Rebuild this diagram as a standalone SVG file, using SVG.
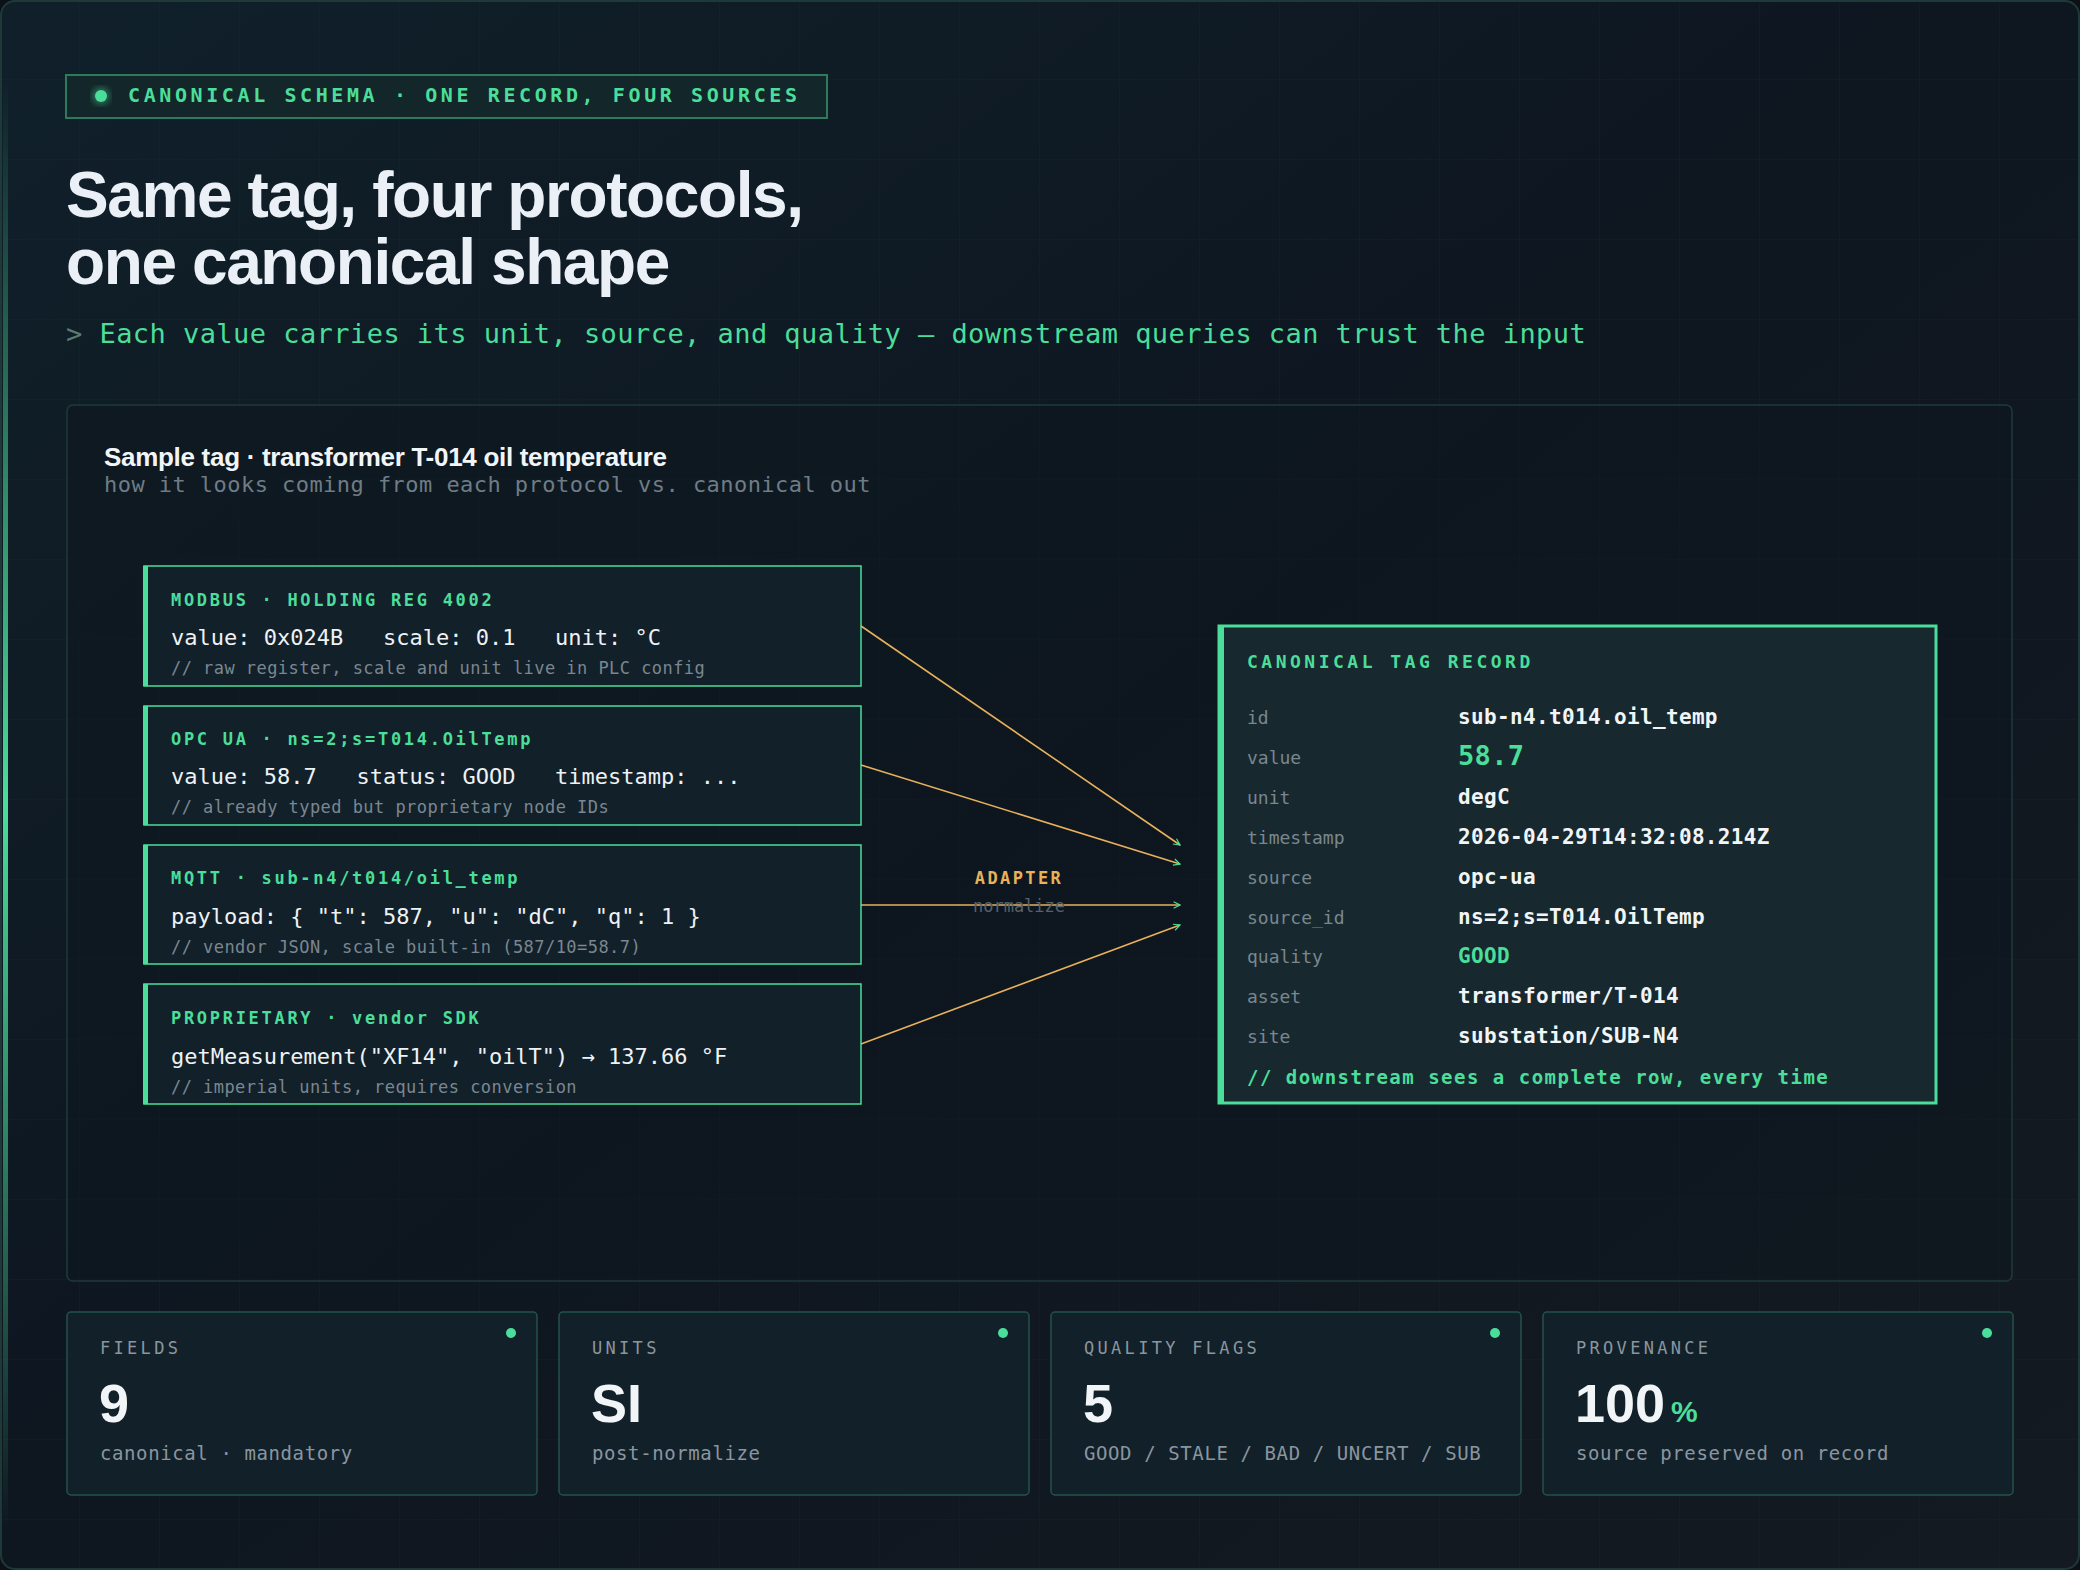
<svg xmlns="http://www.w3.org/2000/svg" width="2080" height="1570" viewBox="0 0 2080 1570">
<defs>
<linearGradient id="bg" x1="0" y1="0" x2="1" y2="1"><stop offset="0" stop-color="#10202a"/><stop offset="0.5" stop-color="#0e1620"/><stop offset="1" stop-color="#141a20"/></linearGradient>
<linearGradient id="edge" x1="0" y1="0" x2="0" y2="1"><stop offset="0" stop-color="#4ade9a" stop-opacity="0"/><stop offset="0.5" stop-color="#4ade9a"/><stop offset="1" stop-color="#4ade9a" stop-opacity="0"/></linearGradient>
<pattern id="grid" width="80" height="80" patternUnits="userSpaceOnUse"><path d="M80 0V80M0 80H80" fill="none" stroke="#1c2c33" stroke-width="1" opacity="0.5"/></pattern>
<marker id="ah" viewBox="0 0 10 10" refX="9" refY="5" markerWidth="8" markerHeight="8" orient="auto" markerUnits="userSpaceOnUse"><path d="M1 1L9 5L1 9" fill="none" stroke="#4ade9a" stroke-width="1.5"/></marker>
<filter id="glow"><feGaussianBlur stdDeviation="3"/></filter>
</defs>
<style>
.mono{font-family:"DejaVu Sans Mono","Liberation Mono",monospace}
.sans{font-family:"Liberation Sans",Arial,sans-serif}
.src{fill:#12202a;stroke:#4ade9a;stroke-width:1.5}
.bar{fill:#4ade9a}
.hdr{font-size:17px;font-weight:bold;fill:#4ade9a;letter-spacing:2.7px}
.val{font-size:22px;fill:#eef2f5}
.cmt{font-size:17px;fill:#7a8790;letter-spacing:0.45px}
.lab{font-size:18px;fill:#7a8790}
.rv{font-size:21px;font-weight:bold;fill:#f2f5f7;letter-spacing:0.35px}
.card{fill:#12202a;stroke:#25524a;stroke-width:1.5}
.clab{font-size:17px;fill:#8a969e;letter-spacing:3.3px}
.big{font-size:54px;font-weight:bold;fill:#f2f5f7}
.csub{font-size:19px;fill:#8a969e;letter-spacing:0.6px}
.wire{stroke:#e9b15a;stroke-width:1.6;fill:none;marker-end:url(#ah)}
</style>
<rect width="2080" height="1570" fill="#0b1116"/>
<rect x="1" y="1" width="2078" height="1568" rx="14" fill="url(#bg)" stroke="#1e3a38" stroke-width="2"/>
<rect x="1" y="1" width="2078" height="1568" rx="14" fill="url(#grid)"/>
<rect x="3" y="80" width="5" height="1450" fill="url(#edge)"/>

<g id="header">
<rect x="66" y="75" width="761" height="43" fill="#13262a" stroke="#2e7a5c" stroke-width="2"/>
<circle cx="101" cy="96" r="9" fill="#4ade9a" opacity="0.4" filter="url(#glow)"/>
<circle cx="101" cy="96" r="6" fill="#4ade9a"/>
<text x="128" y="102" class="mono" font-size="20" font-weight="bold" fill="#4ade9a" letter-spacing="3.6">CANONICAL SCHEMA · ONE RECORD, FOUR SOURCES</text>
<text x="66" y="217" class="sans" font-size="64" font-weight="bold" fill="#eaf0f6" letter-spacing="-1.4">Same tag, four protocols,</text>
<text x="66" y="284" class="sans" font-size="64" font-weight="bold" fill="#eaf0f6" letter-spacing="-1.4">one canonical shape</text>
<text x="66" y="343" class="mono" font-size="27" fill="#4ade9a" letter-spacing="0.45"><tspan fill="#5b7a70">&gt;</tspan> Each value carries its unit, source, and quality — downstream queries can trust the input</text>
</g>

<g id="panel">
<rect x="67" y="405" width="1945" height="876" rx="6" fill="#0e1820" fill-opacity="0.6" stroke="#1f3a38" stroke-width="1.5"/>
<text x="104" y="466" class="sans" font-size="26" font-weight="bold" fill="#f2f5f7" letter-spacing="-0.3">Sample tag · transformer T-014 oil temperature</text>
<text x="104" y="492" class="mono" font-size="22" fill="#6f7c85" letter-spacing="0.45">how it looks coming from each protocol vs. canonical out</text>
</g>

<g id="modbus">
<rect x="144" y="566" width="717" height="120" class="src"/><rect x="143" y="566" width="5" height="120" class="bar"/>
<text x="171" y="606" class="mono hdr">MODBUS · HOLDING REG 4002</text>
<text x="171" y="645" class="mono val" xml:space="preserve">value: 0x024B   scale: 0.1   unit: °C</text>
<text x="171" y="674" class="mono cmt">// raw register, scale and unit live in PLC config</text>
</g>
<g id="opcua">
<rect x="144" y="706" width="717" height="119" class="src"/><rect x="143" y="706" width="5" height="119" class="bar"/>
<text x="171" y="745" class="mono hdr">OPC UA · ns=2;s=T014.OilTemp</text>
<text x="171" y="784" class="mono val" xml:space="preserve">value: 58.7   status: GOOD   timestamp: ...</text>
<text x="171" y="813" class="mono cmt">// already typed but proprietary node IDs</text>
</g>
<g id="mqtt">
<rect x="144" y="845" width="717" height="119" class="src"/><rect x="143" y="845" width="5" height="119" class="bar"/>
<text x="171" y="884" class="mono hdr">MQTT · sub-n4/t014/oil_temp</text>
<text x="171" y="924" class="mono val">payload: { "t": 587, "u": "dC", "q": 1 }</text>
<text x="171" y="953" class="mono cmt">// vendor JSON, scale built-in (587/10=58.7)</text>
</g>
<g id="proprietary">
<rect x="144" y="984" width="717" height="120" class="src"/><rect x="143" y="984" width="5" height="120" class="bar"/>
<text x="171" y="1024" class="mono hdr">PROPRIETARY · vendor SDK</text>
<text x="171" y="1064" class="mono val">getMeasurement("XF14", "oilT") → 137.66 °F</text>
<text x="171" y="1093" class="mono cmt">// imperial units, requires conversion</text>
</g>

<g id="connectors">
<line x1="861" y1="626" x2="1180" y2="845" class="wire"/>
<line x1="861" y1="765" x2="1180" y2="864" class="wire"/>
<line x1="861" y1="905" x2="1180" y2="905" class="wire"/>
<line x1="861" y1="1044" x2="1180" y2="925" class="wire"/>
<text x="1019" y="884" class="mono" font-size="17" font-weight="bold" fill="#e9b15a" text-anchor="middle" letter-spacing="2.4">ADAPTER</text>
<text x="1019" y="912" class="mono" font-size="17" fill="#56616a" text-anchor="middle">normalize</text>
</g>

<g id="canonical">
<rect x="1219" y="626" width="717" height="477" fill="#17292e" stroke="#4ade9a" stroke-width="3"/>
<rect x="1218" y="625" width="6" height="479" fill="#4ade9a"/>
<text x="1247" y="668" class="mono" font-size="18" font-weight="bold" fill="#4ade9a" letter-spacing="3.5">CANONICAL TAG RECORD</text>
<g class="mono">
<text x="1247" y="724" class="lab">id</text><text x="1458" y="724" class="rv">sub-n4.t014.oil_temp</text>
<text x="1247" y="764" class="lab">value</text><text x="1458" y="765" class="rv" style="fill:#4ade9a;font-size:27px">58.7</text>
<text x="1247" y="804" class="lab">unit</text><text x="1458" y="804" class="rv">degC</text>
<text x="1247" y="844" class="lab">timestamp</text><text x="1458" y="844" class="rv">2026-04-29T14:32:08.214Z</text>
<text x="1247" y="884" class="lab">source</text><text x="1458" y="884" class="rv">opc-ua</text>
<text x="1247" y="924" class="lab">source_id</text><text x="1458" y="924" class="rv">ns=2;s=T014.OilTemp</text>
<text x="1247" y="963" class="lab">quality</text><text x="1458" y="963" class="rv" style="fill:#4ade9a">GOOD</text>
<text x="1247" y="1003" class="lab">asset</text><text x="1458" y="1003" class="rv">transformer/T-014</text>
<text x="1247" y="1043" class="lab">site</text><text x="1458" y="1043" class="rv">substation/SUB-N4</text>
</g>
<text x="1247" y="1084" class="mono" font-size="19" font-weight="bold" fill="#4ade9a" letter-spacing="1.5">// downstream sees a complete row, every time</text>
</g>

<g id="card-fields">
<rect x="67" y="1312" width="470" height="183" rx="4" class="card"/>
<circle cx="511" cy="1333" r="5" fill="#4ade9a"/>
<text x="100" y="1354" class="mono clab">FIELDS</text>
<text x="99" y="1422" class="sans big">9</text>
<text x="100" y="1460" class="mono csub">canonical · mandatory</text>
</g>
<g id="card-units">
<rect x="559" y="1312" width="470" height="183" rx="4" class="card"/>
<circle cx="1003" cy="1333" r="5" fill="#4ade9a"/>
<text x="592" y="1354" class="mono clab">UNITS</text>
<text x="591" y="1422" class="sans big">SI</text>
<text x="592" y="1460" class="mono csub">post-normalize</text>
</g>
<g id="card-quality">
<rect x="1051" y="1312" width="470" height="183" rx="4" class="card"/>
<circle cx="1495" cy="1333" r="5" fill="#4ade9a"/>
<text x="1084" y="1354" class="mono clab">QUALITY FLAGS</text>
<text x="1083" y="1422" class="sans big">5</text>
<text x="1084" y="1460" class="mono csub">GOOD / STALE / BAD / UNCERT / SUB</text>
</g>
<g id="card-provenance">
<rect x="1543" y="1312" width="470" height="183" rx="4" class="card"/>
<circle cx="1987" cy="1333" r="5" fill="#4ade9a"/>
<text x="1576" y="1354" class="mono clab">PROVENANCE</text>
<text x="1575" y="1422" class="sans big">100<tspan font-size="30" fill="#4ade9a" dx="6">%</tspan></text>
<text x="1576" y="1460" class="mono csub">source preserved on record</text>
</g>
</svg>
